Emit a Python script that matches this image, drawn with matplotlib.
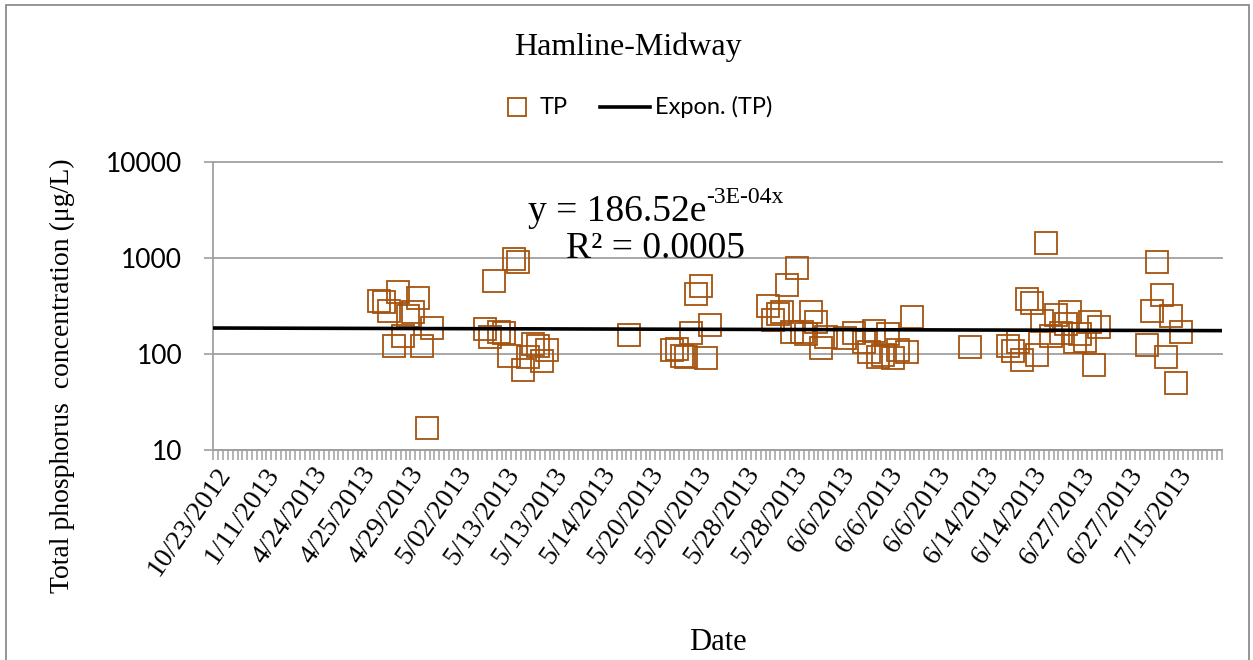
import numpy as np
import matplotlib
matplotlib.use("Agg")
import matplotlib.pyplot as plt
from matplotlib.lines import Line2D
from matplotlib.patches import Rectangle
from matplotlib.ticker import FixedLocator, NullLocator

# Category axis: one slot per sample row, every 10th date printed
date_labels = ['10/23/2012', '1/11/2013', '4/24/2013', '4/25/2013', '4/29/2013',
               '5/02/2013', '5/13/2013', '5/13/2013', '5/14/2013', '5/20/2013',
               '5/20/2013', '5/28/2013', '5/28/2013', '6/6/2013', '6/6/2013',
               '6/6/2013', '6/14/2013', '6/14/2013', '6/27/2013', '6/27/2013',
               '7/15/2013']
n_categories = 210
label_step = 10

# Sample rows (category position) and total phosphorus (ug/L)
sample_index = [34, 35, 36, 37, 38, 39, 40, 41, 42, 43, 44, 45,
                56, 57, 58, 59, 60, 61, 62, 63, 64, 65, 66, 67, 68, 69,
                86,
                95, 96, 97, 98, 99, 100, 101, 102, 103,
                115, 116, 117, 118, 119, 120, 121, 122, 123, 124, 125, 126, 127,
                131, 133, 135, 136, 137, 138, 139, 140, 141, 142, 144, 145,
                157,
                165, 166, 167, 168, 169, 170, 171, 172, 173, 174, 175, 176, 177,
                178, 179, 180, 181, 182, 183, 184,
                194, 195, 196, 197, 198, 199, 200, 201]
tp_values = [356, 348, 283, 122, 445, 154, 250, 274, 386, 122, 17, 187,
             182, 149, 580, 171, 164, 96, 977, 915, 68, 92, 127, 122, 85, 110,
             158,
             110, 113, 96, 93, 164, 422, 514, 90, 200,
             318, 226, 261, 272, 523, 171, 781, 168, 162, 272, 217, 115, 149,
             147, 165, 132, 105, 175, 92, 98, 162, 90, 110, 106, 241,
             117,
             122, 108, 132, 87, 374, 338, 98, 222, 1422, 155, 255, 164, 205,
             276, 132, 162, 135, 214, 76, 192,
             124, 283, 902, 412, 92, 250, 50, 171]

# Exponential trend reported for the series
trend_a = 186.52
trend_b = -3e-4
trend_eq_exp = '-3E-04x'
r_squared = '0.0005'

SERIF = ['Liberation Serif', 'DejaVu Serif']
SANS = ['Lato', 'DejaVu Sans']
MARKER_COLOR = '#A5520F'
GRID_COLOR = '#A0A0A0'

W, H = 1253, 660
fig = plt.figure(figsize=(W / 100, H / 100), dpi=100)
fig.patch.set_facecolor('white')


def fx(px):
    return px / W


def fy(py):
    return 1 - py / H


ax_l, ax_r, ax_t, ax_b = 213.5, 1221.7, 162, 450
ax = fig.add_axes([fx(ax_l), fy(ax_b), (ax_r - ax_l) / W, (ax_b - ax_t) / H])

ax.set_yscale('log')
ax.set_ylim(10, 10000)
ax.set_xlim(-0.5, n_categories - 0.5)

# y axis: decades only
yt = [10, 100, 1000, 10000]
ax.yaxis.set_major_locator(FixedLocator(yt))
ax.yaxis.set_minor_locator(NullLocator())
ax.set_yticklabels([str(v) for v in yt], family=SANS, fontsize=19)
ax.tick_params(axis='y', which='major', direction='out', length=6.5, width=1.2,
               color=GRID_COLOR, pad=16)
ax.grid(axis='y', which='major', color=GRID_COLOR, lw=1.3)
for gl in ax.get_ygridlines():
    gl.set_clip_on(False)

# x axis: tick marks between every category, labels every 10th
label_pos = np.arange(0, len(date_labels) * label_step, label_step)
ax.set_xticks(label_pos)
ax.set_xticklabels(date_labels, family=SERIF, fontsize=20, rotation=55,
                   ha='right', va='top', rotation_mode='anchor')
ax.xaxis.set_minor_locator(FixedLocator(np.arange(-0.5, n_categories, 1.0)))
ax.tick_params(axis='x', which='major', length=0, pad=9)
ax.tick_params(axis='x', which='minor', direction='out', length=7, width=1.1,
               color=GRID_COLOR)

for side in ('top', 'right'):
    ax.spines[side].set_visible(False)
for side in ('left', 'bottom'):
    ax.spines[side].set_color(GRID_COLOR)
    ax.spines[side].set_linewidth(1.3)

# data series
ax.plot(sample_index, tp_values, ls='none', marker='s', ms=15.5, mfc='none',
        mec=MARKER_COLOR, mew=1.3, zorder=3)

# exponential trendline over category numbers 1..N
xs = np.linspace(-0.5, n_categories - 0.5, 300)
ax.plot(xs, trend_a * np.exp(trend_b * (xs + 1)), color='black', lw=2.6, zorder=4)

# title
fig.text(fx(628), fy(47), 'Hamline-Midway', family=SERIF, fontsize=23,
         ha='center', va='center')

# legend row
fig.add_artist(Line2D([fx(517)], [fy(107)], ls='none', marker='s', ms=13,
                      mfc='none', mec=MARKER_COLOR, mew=1.3,
                      transform=fig.transFigure))
fig.text(fx(540), fy(107), 'TP', family=SANS, fontsize=17, ha='left', va='center')
fig.add_artist(Line2D([fx(600), fx(650)], [fy(107), fy(107)], color='black',
                      lw=2.6, transform=fig.transFigure))
fig.text(fx(655), fy(107), 'Expon. (TP)', family=SANS, fontsize=17,
         ha='left', va='center')

# axis titles
fig.text(fx(62), fy(376), 'Total phosphorus  concentration (\u03bcg/L)',
         family=SERIF, fontsize=20, rotation=90, ha='center', va='center')
fig.text(fx(718), fy(642), 'Date', family=SERIF, fontsize=22,
         ha='center', va='center')

# trendline equation block
eq_cx = 656
fig.canvas.draw()
renderer = fig.canvas.get_renderer()
t_main = fig.text(0, fy(221), f'y = {trend_a:.2f}e', family=SERIF,
                  fontsize=27, ha='left', va='baseline')
t_sup = fig.text(0, fy(203), trend_eq_exp, family=SERIF, fontsize=17,
                 ha='left', va='baseline')
w_main = t_main.get_window_extent(renderer).width
w_sup = t_sup.get_window_extent(renderer).width
x0 = eq_cx - (w_main + w_sup) / 2
t_main.set_x(fx(x0))
t_sup.set_x(fx(x0 + w_main))
fig.text(fx(eq_cx), fy(258), f'R\u00b2 = {r_squared}', family=SERIF,
         fontsize=27, ha='center', va='baseline')

# chart area border
fig.patches.append(Rectangle((fx(6), -0.02), (1249 - 6) / W, fy(5) + 0.02,
                             transform=fig.transFigure, fill=False,
                             edgecolor='#8C8C8C', lw=1.3))

fig.savefig('out.png', dpi=100)
